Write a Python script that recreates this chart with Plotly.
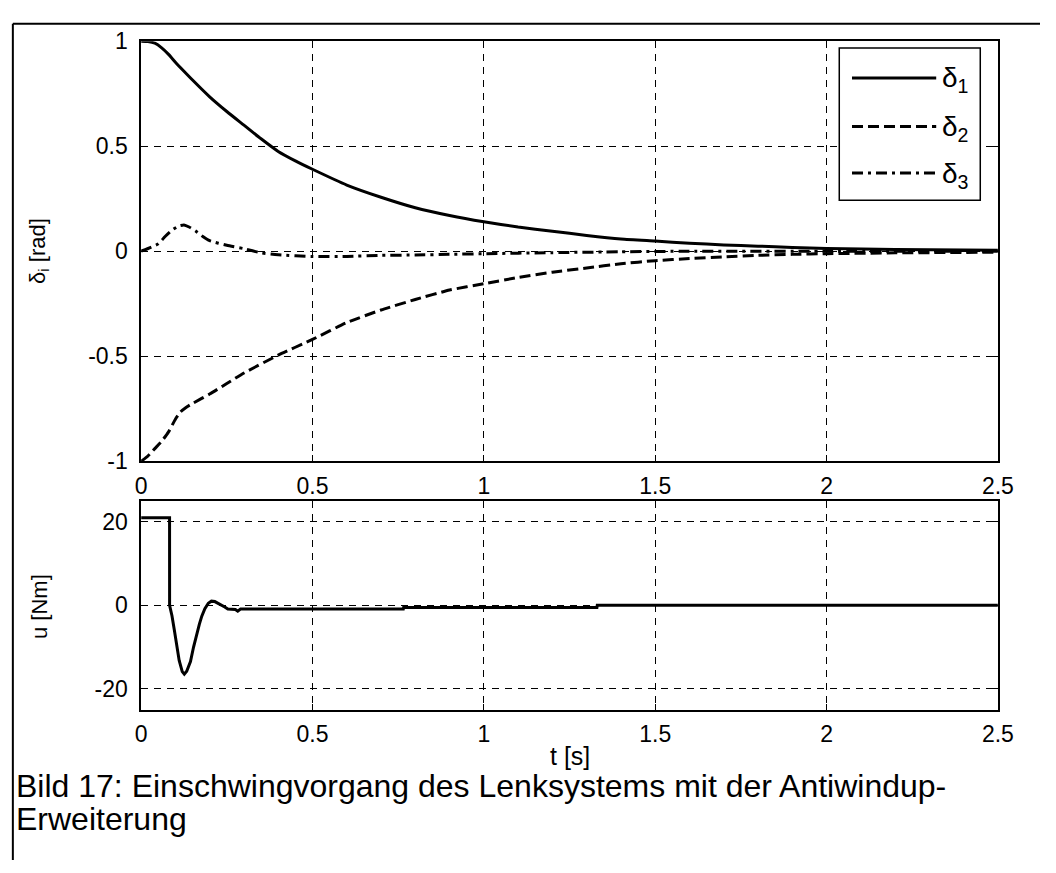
import plotly.graph_objects as go

# ---- data ----
t_d1 = [0, 0.02, 0.04, 0.06, 0.08, 0.1, 0.125, 0.15, 0.2, 0.25, 0.3, 0.35, 0.4, 0.45,
        0.5, 0.6, 0.7, 0.8, 0.9, 1.0, 1.1, 1.2, 1.3, 1.4, 1.5, 1.6, 1.7, 1.8, 1.9,
        2.0, 2.2, 2.5]
d1 = [1.0, 0.998, 0.99, 0.968, 0.937, 0.9, 0.857, 0.815, 0.735, 0.665, 0.60, 0.535,
      0.475, 0.43, 0.39, 0.315, 0.257, 0.207, 0.17, 0.14, 0.115, 0.095, 0.075, 0.058,
      0.048, 0.038, 0.03, 0.024, 0.018, 0.013, 0.008, 0.005]

t_d2 = [0, 0.02, 0.04, 0.06, 0.08, 0.1, 0.115, 0.13, 0.15, 0.2, 0.25, 0.3, 0.4, 0.5,
        0.6, 0.7, 0.8, 0.9, 1.0, 1.1, 1.2, 1.3, 1.4, 1.5, 1.6, 1.7, 1.8, 1.9, 2.0,
        2.2, 2.5]
d2 = [-1.0, -0.975, -0.94, -0.905, -0.86, -0.8, -0.765, -0.745, -0.725, -0.68, -0.63,
      -0.58, -0.495, -0.42, -0.34, -0.28, -0.23, -0.185, -0.155, -0.125, -0.1, -0.08,
      -0.06, -0.045, -0.035, -0.027, -0.02, -0.015, -0.012, -0.008, -0.005]

t_d3 = [0, 0.03, 0.05, 0.07, 0.09, 0.11, 0.125, 0.14, 0.16, 0.18, 0.2, 0.25, 0.3,
        0.35, 0.4, 0.5, 0.6, 0.7, 0.8, 0.9, 1.0, 1.2, 1.4, 1.6, 2.0, 2.5]
d3 = [0, 0.02, 0.035, 0.07, 0.1, 0.12, 0.125, 0.115, 0.095, 0.07, 0.05, 0.028, 0.012,
      -0.008, -0.017, -0.025, -0.025, -0.02, -0.018, -0.015, -0.012, -0.007, -0.003,
      0, 0, 0]

t_u = [0, 0.083, 0.0831, 0.09, 0.097, 0.104, 0.111, 0.12, 0.126, 0.133, 0.144, 0.153,
       0.163, 0.17, 0.177, 0.186, 0.196, 0.205, 0.215, 0.225, 0.234, 0.244, 0.253,
       0.265, 0.275, 0.282, 0.29, 0.3, 0.765, 0.766, 1.33, 1.331, 2.5]
u = [21, 21, 0, -2.5, -6, -10, -13.2, -15.9, -16.5, -15.8, -13.5, -10, -6.5, -4.5,
     -2.6, -0.8, 0.5, 1.0, 0.9, 0.5, 0.1, -0.4, -0.9, -1.0, -1.0, -1.4, -0.9, -0.9,
     -0.9, -0.5, -0.5, 0, 0]

x_ticks = [0, 0.5, 1, 1.5, 2, 2.5]
x_ticklabels = ["0", "0.5", "1", "1.5", "2", "2.5"]
y1_ticks = [-1, -0.5, 0, 0.5, 1]
y1_ticklabels = ["-1", "-0.5", "0", "0.5", "1"]
y2_ticks = [-20, 0, 20]
y2_ticklabels = ["-20", "0", "20"]

legend_names = ["δ<sub>1</sub>", "δ<sub>2</sub>", "δ<sub>3</sub>"]
caption_lines = ["Bild 17: Einschwingvorgang des Lenksystems mit der Antiwindup-",
                 "Erweiterung"]

# ---- figure ----
W, H = 1056, 873
FONT = "Liberation Sans, Arial, sans-serif"
LW = 3
dash2 = "11px,5px"
dash3 = "11px,5px,3px,5px"

fig = go.Figure()
fig.add_trace(go.Scatter(x=t_d1, y=d1, mode="lines",
                         line=dict(color="black", width=LW, shape="spline", smoothing=0.6),
                         xaxis="x", yaxis="y", showlegend=False))
fig.add_trace(go.Scatter(x=t_d2, y=d2, mode="lines",
                         line=dict(color="black", width=LW, dash=dash2, shape="spline",
                                   smoothing=0.5),
                         xaxis="x", yaxis="y", showlegend=False))
fig.add_trace(go.Scatter(x=t_d3, y=d3, mode="lines",
                         line=dict(color="black", width=LW, dash=dash3, shape="spline",
                                   smoothing=0.5),
                         xaxis="x", yaxis="y", showlegend=False))
fig.add_trace(go.Scatter(x=t_u, y=u, mode="lines", line=dict(color="black", width=LW),
                         xaxis="x2", yaxis="y2", showlegend=False))

def px_x(p):
    return p / W

def px_y(p):
    return 1 - p / H

xdom = [px_x(138), px_x(1013)]
common = dict(showline=True, linecolor="black", linewidth=1.5, mirror="ticks",
              ticks="inside", ticklen=6, tickcolor="black", tickwidth=1,
              showgrid=True, gridcolor="black", gridwidth=1, griddash="7px,6px",
              zeroline=False, tickfont=dict(family=FONT, size=23, color="black"))

fig.update_layout(
    width=W, height=H,
    margin=dict(l=0, r=0, t=0, b=0),
    paper_bgcolor="white", plot_bgcolor="white",
    font=dict(family=FONT, color="black"),
    showlegend=False,
    xaxis=dict(domain=xdom, range=[0, 2.5], tickvals=x_ticks, ticktext=x_ticklabels,
               anchor="y", ticklabelstandoff=3, **common),
    yaxis=dict(domain=[px_y(462), px_y(29)], range=[-1, 1], tickvals=y1_ticks,
               ticktext=y1_ticklabels, anchor="x", ticklabelstandoff=7, **common),
    xaxis2=dict(domain=xdom, range=[0, 2.5], tickvals=x_ticks, ticktext=x_ticklabels,
                anchor="y2", ticklabelstandoff=3, **common),
    yaxis2=dict(domain=[px_y(718), px_y(503)], range=[-25, 25], tickvals=y2_ticks,
                ticktext=y2_ticklabels, anchor="x2", ticklabelstandoff=7, **common),
)

shapes = []
annotations = []
# outer frame (top and left lines)
shapes.append(dict(type="line", xref="paper", yref="paper", x0=px_x(7), x1=1,
                   y0=px_y(11), y1=px_y(11), line=dict(color="black", width=2)))
shapes.append(dict(type="line", xref="paper", yref="paper", x0=px_x(7), x1=px_x(7),
                   y0=0, y1=px_y(11), line=dict(color="black", width=2)))

# legend box
shapes.append(dict(type="rect", xref="paper", yref="paper", x0=px_x(851), x1=px_x(995),
                   y0=px_y(193), y1=px_y(36), fillcolor="white",
                   line=dict(color="black", width=1.5), layer="above"))
legend_dash = ["solid", dash2, dash3]
legend_y = [67, 117, 165]
for name, dsh, ly in zip(legend_names, legend_dash, legend_y):
    shapes.append(dict(type="line", xref="paper", yref="paper", x0=px_x(864),
                       x1=px_x(950), y0=px_y(ly), y1=px_y(ly), layer="above",
                       line=dict(color="black", width=LW, dash=dsh)))
    annotations.append(dict(xref="paper", yref="paper", x=px_x(954), y=px_y(ly + 2),
                            text=name, showarrow=False, xanchor="left",
                            yanchor="middle",
                            font=dict(family=FONT, size=28, color="black")))

# axis titles
annotations.append(dict(xref="paper", yref="paper", x=px_x(33), y=px_y(245),
                        text="δ<sub>i</sub> [rad]", textangle=-90, showarrow=False,
                        xanchor="center", yanchor="middle",
                        font=dict(family=FONT, size=22, color="black")))
annotations.append(dict(xref="paper", yref="paper", x=px_x(35), y=px_y(612),
                        text="u [Nm]", textangle=-90, showarrow=False,
                        xanchor="center", yanchor="middle",
                        font=dict(family=FONT, size=22, color="black")))
annotations.append(dict(xref="paper", yref="paper", x=px_x(576), y=px_y(766),
                        text="t [s]", showarrow=False, xanchor="center",
                        yanchor="middle",
                        font=dict(family=FONT, size=25, color="black")))
# caption
for line, cy in zip(caption_lines, [797, 831]):
    annotations.append(dict(xref="paper", yref="paper", x=px_x(8), y=px_y(cy),
                            text=line, showarrow=False, xanchor="left",
                            yanchor="middle",
                            font=dict(family=FONT, size=32, color="black")))

fig.update_layout(shapes=shapes, annotations=annotations)
fig.write_html(
    "out.html",
    config={"displayModeBar": False},
    post_script=(
        "document.documentElement.style.margin='0';"
        "document.documentElement.style.overflow='hidden';"
        "document.body.style.margin='0';"
        "document.body.style.overflow='hidden';"
        "var d=document.getElementById('{plot_id}');"
        "d.style.position='fixed';d.style.left='0px';d.style.top='0px';"
    ),
)
